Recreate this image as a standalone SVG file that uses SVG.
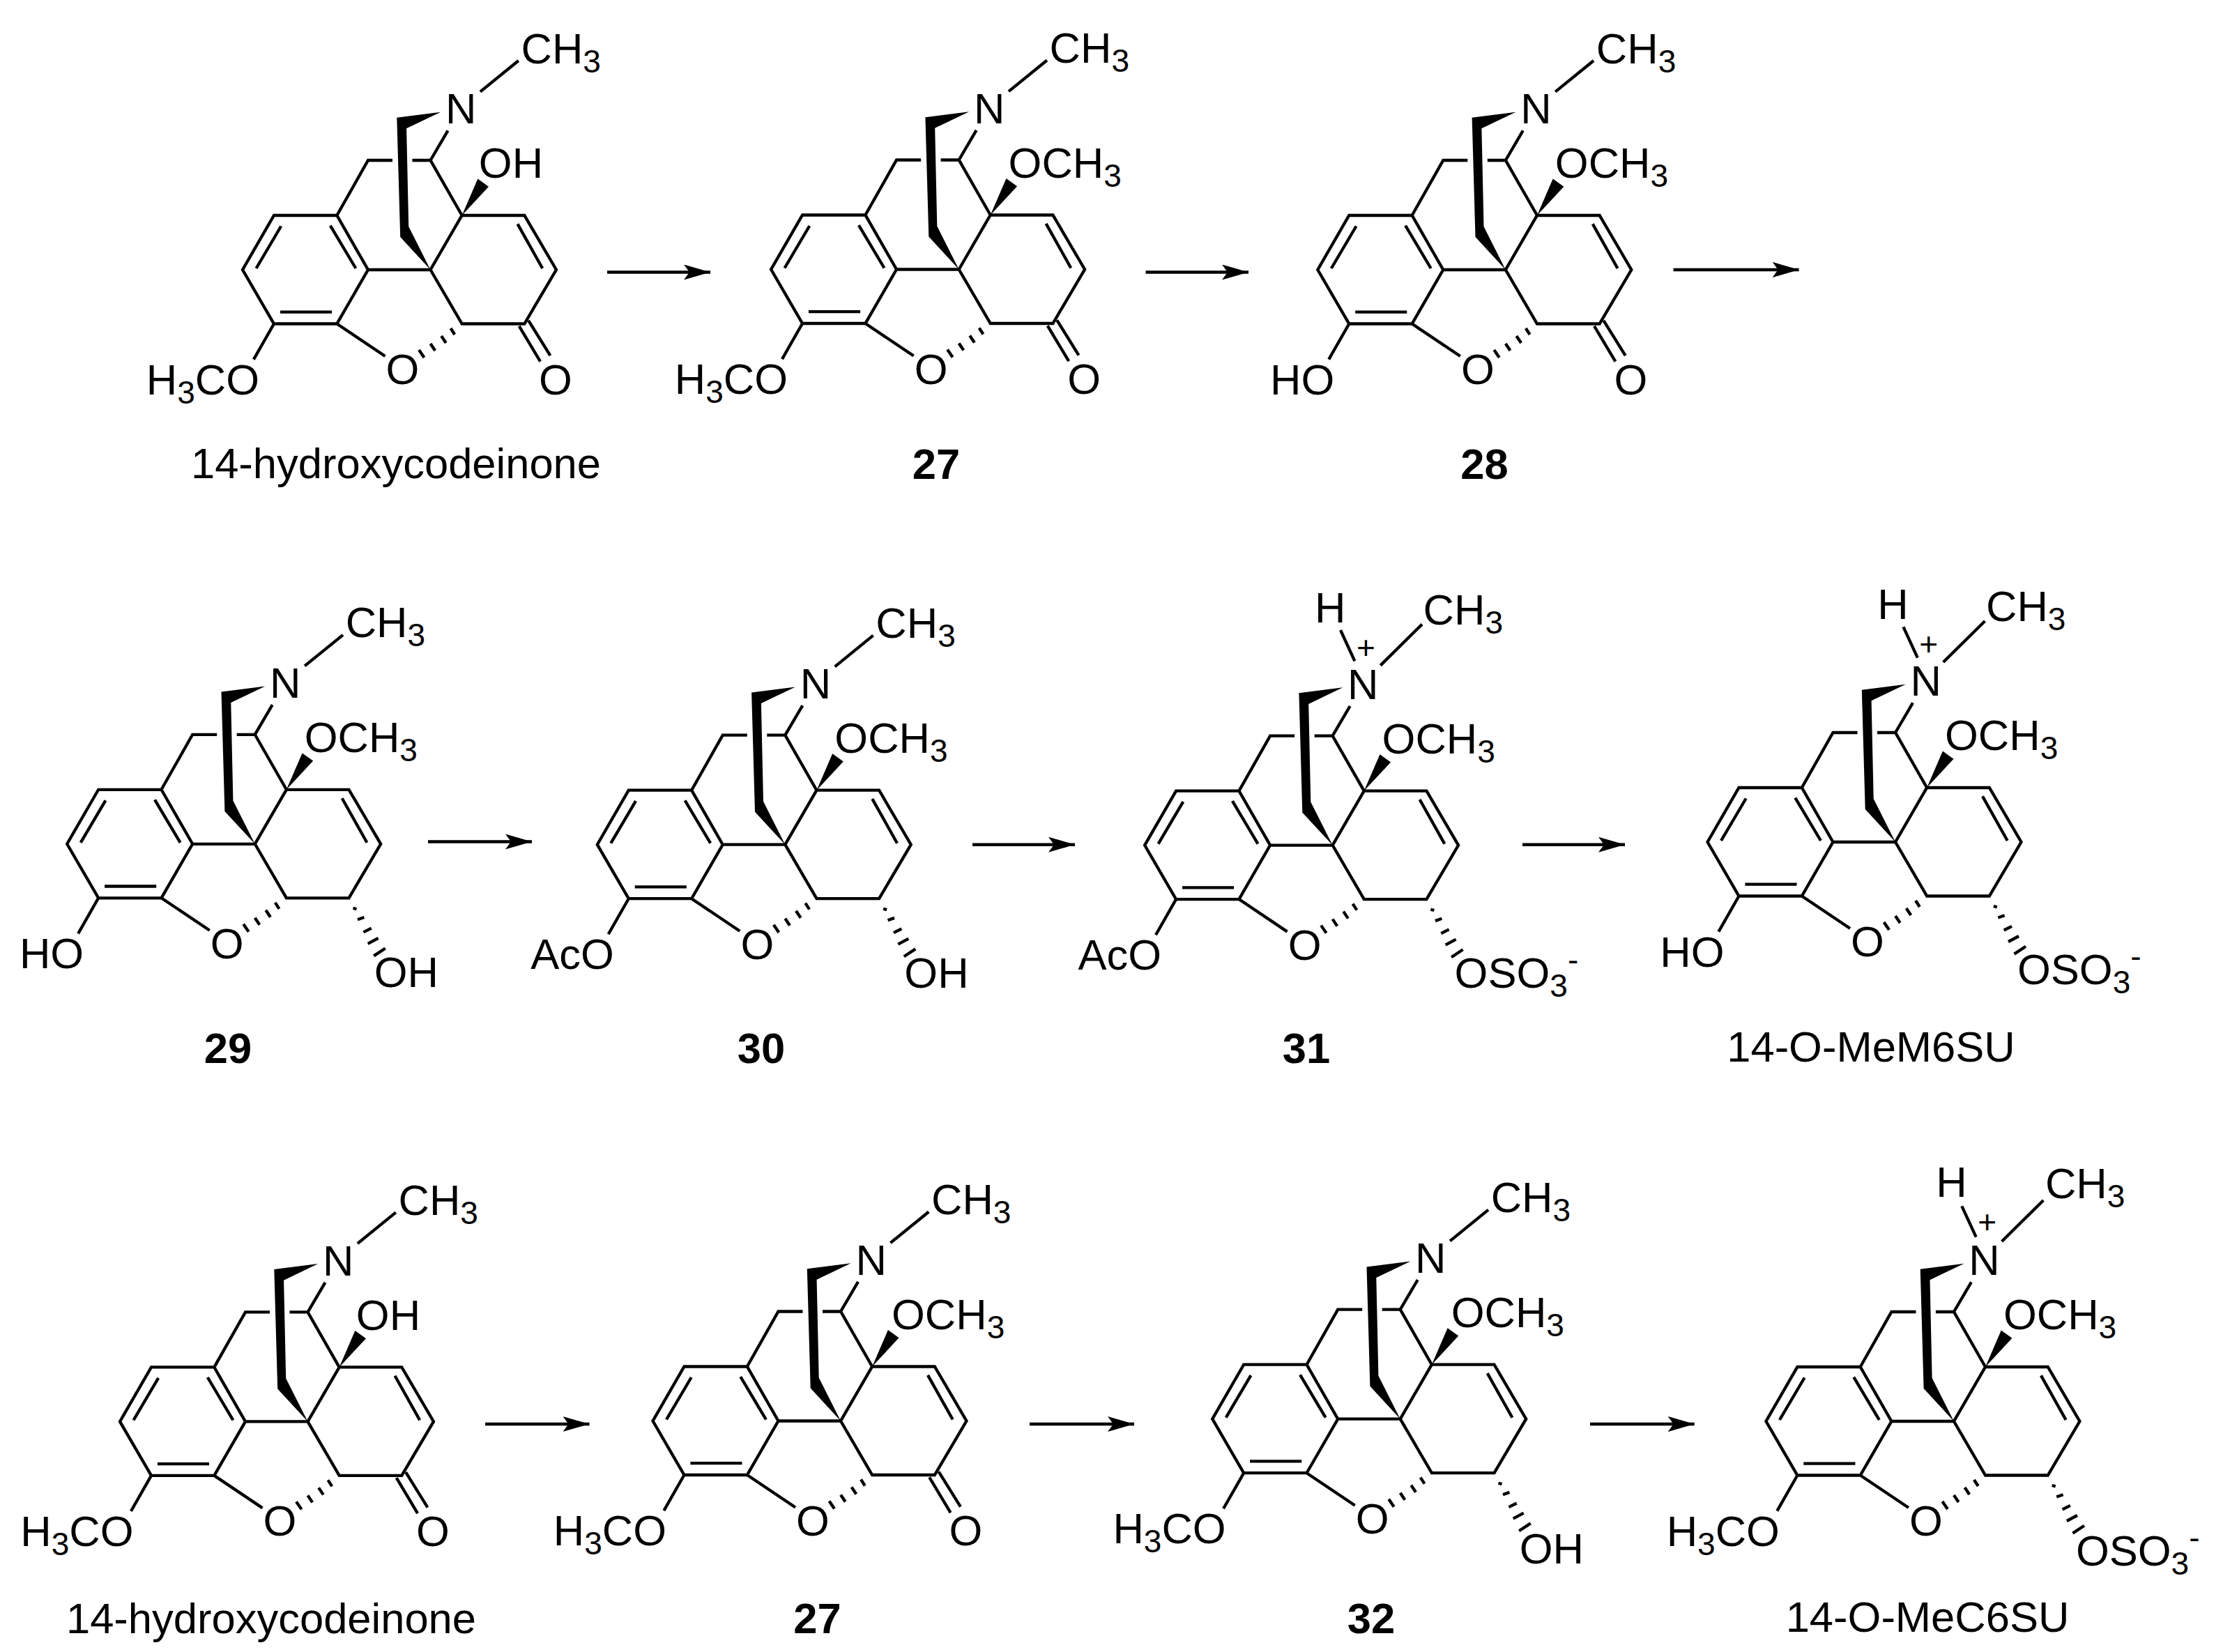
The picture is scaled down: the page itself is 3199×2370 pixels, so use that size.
<svg xmlns="http://www.w3.org/2000/svg" width="3199" height="2370" viewBox="0 0 3199 2370">
<style>
text{font-family:"Liberation Sans",Arial,sans-serif;font-size:61.5px;fill:#000}
.m{text-anchor:middle}
.e{text-anchor:end}
.c{text-anchor:middle}
.n{font-weight:bold;text-anchor:middle}
.s{font-size:46px}
.b{fill:none;stroke:#000;stroke-width:4.3;stroke-linejoin:miter}
.w{fill:#000;stroke:none}
.a{fill:none;stroke:#000;stroke-width:4.5}
</style>
<defs>
<g id="core">
<path class="b" d="M-89.5 0L-134.2 -78L-224.5 -78L-269.5 0L-224.5 77.5L-134.2 77.5ZM-89.5 0H0M-134.2 -78L-89.5 -157H-54.5M-26 -157H0L45.2 -78M0 0L45.2 -78H134.8L180.5 0L134.8 77.5H45.2ZM0 -157L25 -199.6M-134.2 77.5L-65 124M-224.5 77.5L-253.6 128.6M-143.7 -63.4L-107.1 -2M-214.3 -62.5L-250 -2M-215.6 60.7H-141.5M125 -65.6L160.7 -2M29 84L34.8 93M15.6 95L22.3 105M0 106L6.7 116M-16.5 115L-9 126"/>
<path class="w" d="M0 0L-43.3 -46.9L-48.2 -218.3L14.7 -226.3L-34.4 -202.7L-31.3 -62Z"/>
<path class="w" d="M45.2 -78L67.9 -130.4L83.5 -119.2Z"/>
</g>
<path id="nme" class="b" d="M71.4 -255.4L126.3 -300"/>
<path id="nhme" class="b" d="M11.4 -308.6L31.8 -264.3M68.7 -258L128.4 -317"/>
<path id="keto" class="b" d="M140.6 72.8L171.9 123.2M127.2 80.8L157.6 131.7"/>
<path id="hash6" class="b" d="M140.8 92L145.8 93.4M147.3 108.5L156.7 105.2M155.7 126.5L167 120.8M162 143L177 135M170.5 160.6L187 149.7"/>
<marker id="head" markerUnits="userSpaceOnUse" markerWidth="40" markerHeight="24" refX="38" refY="11" orient="auto"><path class="w" d="M0 0L38 11L0 22L8 11Z"/></marker>
</defs>
<rect width="3199" height="2370" fill="#fff"/>
<g id="connectors">
<path class="a" marker-end="url(#head)" d="M871 390.5H1019"/>
<path class="a" marker-end="url(#head)" d="M1643.6 390.5H1791"/>
<path class="a" marker-end="url(#head)" d="M2400.6 387H2580.6"/>
<path class="a" marker-end="url(#head)" d="M614 1207.4H763"/>
<path class="a" marker-end="url(#head)" d="M1395 1211.7H1542"/>
<path class="a" marker-end="url(#head)" d="M2184 1211.7H2331"/>
<path class="a" marker-end="url(#head)" d="M696 2043H845.5"/>
<path class="a" marker-end="url(#head)" d="M1477 2043H1627"/>
<path class="a" marker-end="url(#head)" d="M2281 2043H2430.7"/>
</g>
<g id="mol-14-hydroxycodeinone-1">
<g transform="translate(617.5 387)"><use href="#core"/><use href="#nme"/><use href="#keto"/>
<text class="m" x="43.6" y="-209.8">N</text>
<text x="130" y="-296.4">CH<tspan class="s" dy="13">3</tspan></text>
<text x="69.3" y="-131.7">OH</text>
<text class="m" x="-40" y="164">O</text>
<text class="m" x="179.5" y="178.6">O</text>
<text class="e" x="-245.5" y="178.6">H<tspan class="s" dy="13">3</tspan><tspan dy="-13">CO</tspan></text>
</g>
<text class="c" x="568" y="685.6">14-hydroxycodeinone</text>
</g>
<g id="mol-27-1">
<g transform="translate(1375.6 386.5)"><use href="#core"/><use href="#nme"/><use href="#keto"/>
<text class="m" x="43.6" y="-209.8">N</text>
<text x="130" y="-296.4">CH<tspan class="s" dy="13">3</tspan></text>
<text x="71" y="-131.7">OCH<tspan class="s" dy="13">3</tspan></text>
<text class="m" x="-40" y="164">O</text>
<text class="m" x="179.5" y="178.6">O</text>
<text class="e" x="-245.5" y="178.6">H<tspan class="s" dy="13">3</tspan><tspan dy="-13">CO</tspan></text>
</g>
<text class="n" x="1343" y="687">27</text>
</g>
<g id="mol-28">
<g transform="translate(2159.8 387)"><use href="#core"/><use href="#nme"/><use href="#keto"/>
<text class="m" x="43.6" y="-209.8">N</text>
<text x="130" y="-296.4">CH<tspan class="s" dy="13">3</tspan></text>
<text x="71" y="-131.7">OCH<tspan class="s" dy="13">3</tspan></text>
<text class="m" x="-40" y="164">O</text>
<text class="m" x="179.5" y="178.6">O</text>
<text class="e" x="-245.5" y="178.6">HO</text>
</g>
<text class="n" x="2129.5" y="687">28</text>
</g>
<g id="mol-29">
<g transform="translate(365.7 1210.8)"><use href="#core"/><use href="#nme"/><use href="#hash6"/>
<text class="m" x="43.6" y="-209.8">N</text>
<text x="130" y="-296.4">CH<tspan class="s" dy="13">3</tspan></text>
<text x="71" y="-131.7">OCH<tspan class="s" dy="13">3</tspan></text>
<text class="m" x="-40" y="164">O</text>
<text x="171" y="205">OH</text>
<text class="e" x="-245.5" y="178.6">HO</text>
</g>
<text class="n" x="327" y="1525">29</text>
</g>
<g id="mol-30">
<g transform="translate(1126.3 1211.7)"><use href="#core"/><use href="#nme"/><use href="#hash6"/>
<text class="m" x="43.6" y="-209.8">N</text>
<text x="130" y="-296.4">CH<tspan class="s" dy="13">3</tspan></text>
<text x="71" y="-131.7">OCH<tspan class="s" dy="13">3</tspan></text>
<text class="m" x="-40" y="164">O</text>
<text x="171" y="205">OH</text>
<text class="e" x="-245.5" y="178.6">AcO</text>
</g>
<text class="n" x="1092" y="1525">30</text>
</g>
<g id="mol-31">
<g transform="translate(1911.6 1212.6)"><use href="#core"/><use href="#nhme"/><use href="#hash6"/>
<text class="m" x="43.6" y="-209.8">N</text>
<text class="m" x="-3.5" y="-320">H</text>
<text class="s m" x="47.8" y="-268">+</text>
<text x="130" y="-317">CH<tspan class="s" dy="13">3</tspan></text>
<text x="71" y="-131.7">OCH<tspan class="s" dy="13">3</tspan></text>
<text class="m" x="-40" y="164">O</text>
<text x="175" y="204">OSO<tspan class="s" dy="13">3</tspan><tspan class="s" dy="-37">-</tspan></text>
<text class="e" x="-245.5" y="178.6">AcO</text>
</g>
<text class="n" x="1874" y="1525">31</text>
</g>
<g id="mol-14-O-MeM6SU">
<g transform="translate(2719 1208)"><use href="#core"/><use href="#nhme"/><use href="#hash6"/>
<text class="m" x="43.6" y="-209.8">N</text>
<text class="m" x="-3.5" y="-320">H</text>
<text class="s m" x="47.8" y="-268">+</text>
<text x="130" y="-317">CH<tspan class="s" dy="13">3</tspan></text>
<text x="71" y="-131.7">OCH<tspan class="s" dy="13">3</tspan></text>
<text class="m" x="-40" y="164">O</text>
<text x="175" y="204">OSO<tspan class="s" dy="13">3</tspan><tspan class="s" dy="-37">-</tspan></text>
<text class="e" x="-245.5" y="178.6">HO</text>
</g>
<text class="c" x="2684" y="1523">14-O-MeM6SU</text>
</g>
<g id="mol-14-hydroxycodeinone-2">
<g transform="translate(441.5 2039.4)"><use href="#core"/><use href="#nme"/><use href="#keto"/>
<text class="m" x="43.6" y="-209.8">N</text>
<text x="130" y="-296.4">CH<tspan class="s" dy="13">3</tspan></text>
<text x="69.3" y="-131.7">OH</text>
<text class="m" x="-40" y="164">O</text>
<text class="m" x="179.5" y="178.6">O</text>
<text class="e" x="-250" y="178.6">H<tspan class="s" dy="13">3</tspan><tspan dy="-13">CO</tspan></text>
</g>
<text class="c" x="389" y="2343">14-hydroxycodeinone</text>
</g>
<g id="mol-27-2">
<g transform="translate(1206 2038.5)"><use href="#core"/><use href="#nme"/><use href="#keto"/>
<text class="m" x="43.6" y="-209.8">N</text>
<text x="130" y="-296.4">CH<tspan class="s" dy="13">3</tspan></text>
<text x="73" y="-131.7">OCH<tspan class="s" dy="13">3</tspan></text>
<text class="m" x="-40" y="164">O</text>
<text class="m" x="179.5" y="178.6">O</text>
<text class="e" x="-250" y="178.6">H<tspan class="s" dy="13">3</tspan><tspan dy="-13">CO</tspan></text>
</g>
<text class="n" x="1172.5" y="2343">27</text>
</g>
<g id="mol-32">
<g transform="translate(2008.7 2035.7)"><use href="#core"/><use href="#nme"/><use href="#hash6"/>
<text class="m" x="43.6" y="-209.8">N</text>
<text x="130" y="-296.4">CH<tspan class="s" dy="13">3</tspan></text>
<text x="73" y="-131.7">OCH<tspan class="s" dy="13">3</tspan></text>
<text class="m" x="-40" y="164">O</text>
<text x="171" y="207">OH</text>
<text class="e" x="-250" y="178.6">H<tspan class="s" dy="13">3</tspan><tspan dy="-13">CO</tspan></text>
</g>
<text class="n" x="1967" y="2343">32</text>
</g>
<g id="mol-14-O-MeC6SU">
<g transform="translate(2802.9 2039)"><use href="#core"/><use href="#nhme"/><use href="#hash6"/>
<text class="m" x="43.6" y="-209.8">N</text>
<text class="m" x="-3.5" y="-322">H</text>
<text class="s m" x="47.8" y="-270">+</text>
<text x="131" y="-320">CH<tspan class="s" dy="13">3</tspan></text>
<text x="71" y="-131.7">OCH<tspan class="s" dy="13">3</tspan></text>
<text class="m" x="-40" y="164">O</text>
<text x="175" y="207">OSO<tspan class="s" dy="13">3</tspan><tspan class="s" dy="-37">-</tspan></text>
<text class="e" x="-250" y="178.6">H<tspan class="s" dy="13">3</tspan><tspan dy="-13">CO</tspan></text>
</g>
<text class="c" x="2765" y="2340.6">14-O-MeC6SU</text>
</g>
</svg>
